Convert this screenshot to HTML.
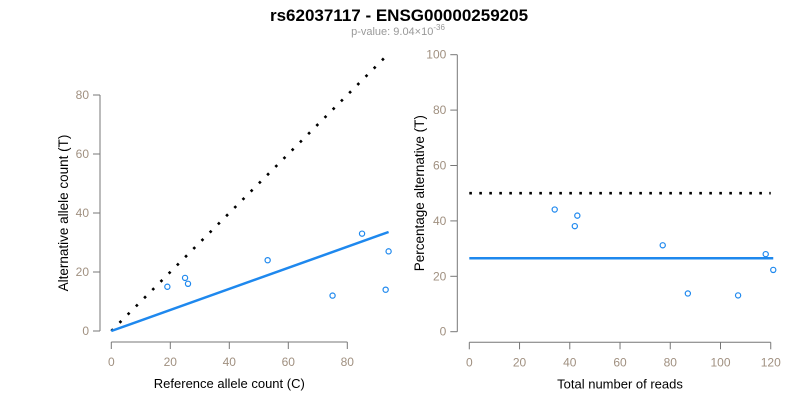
<!DOCTYPE html>
<html><head><meta charset="utf-8"><style>
body{margin:0;background:#fff;width:800px;height:400px;overflow:hidden;font-family:"Liberation Sans",Arial,sans-serif}
svg text{font-family:"Liberation Sans",Arial,sans-serif}
</style></head><body>
<svg id="chart" width="800" height="400" xmlns="http://www.w3.org/2000/svg">
<text x="399" y="21" text-anchor="middle" font-size="17" font-weight="bold" fill="#000">rs62037117 - ENSG00000259205</text>
<text x="398" y="35" text-anchor="middle" font-size="11" fill="#999">p-value: 9.04×10<tspan dy="-5" font-size="8">-36</tspan></text>
<g id="left"></g>
<g id="right"></g>
</svg>
<script>
const refCounts=[19,25,26,53,75,85,93,94];
const altCounts=[15,18,16,24,12,33,14,27];
const leftXTicks=[0,20,40,60,80];
const leftYTicks=[0,20,40,60,80];
const fitSlope=0.357;
const totals=[34,43,42,77,87,118,107,121];
const pctAlt=[44.1,41.9,38.1,31.2,13.8,28.0,13.1,22.3];
const rightXTicks=[0,20,40,60,80,100,120];
const rightYTicks=[0,20,40,60,80,100];
const meanPct=26.5;
const NS="http://www.w3.org/2000/svg";
function mk(p,tag,a){const e=document.createElementNS(NS,tag);for(const k in a)e.setAttribute(k,a[k]);p.appendChild(e);return e;}
function axes(g,sx,sy,xt,yt,xAxisY,yAxisX,xl,yl,ylx){
  const xa=mk(g,'line',{x1:sx(xt[0]),x2:sx(xt[xt.length-1]),y1:xAxisY,y2:xAxisY,stroke:'#777'});
  
  
  xt.forEach(v=>{
    const t=mk(g,'line',{x1:sx(v),x2:sx(v),y1:xAxisY,y2:xAxisY+7,stroke:'#777'});
    
    
    const l=mk(g,'text',{x:sx(v),y:xAxisY+24,'text-anchor':'middle','font-size':12,fill:'#a09080'});
    l.textContent=v;
    
    
  });
  const ya=mk(g,'line',{x1:yAxisX,x2:yAxisX,y1:sy(yt[0]),y2:sy(yt[yt.length-1]),stroke:'#777'});
  
  
  yt.forEach(v=>{
    const t=mk(g,'line',{x1:yAxisX-7,x2:yAxisX,y1:sy(v),y2:sy(v),stroke:'#777'});
    
    
    const l=mk(g,'text',{x:yAxisX-11,y:sy(v)+4,'text-anchor':'end','font-size':12,fill:'#a09080'});
    l.textContent=v;
    
    
  });
  const xt2=mk(g,'text',{x:(sx(xt[0])+sx(xt[xt.length-1]))/2,y:xAxisY+46,'text-anchor':'middle','font-size':13,fill:'#000'});
  xt2.textContent=xl;
  
  
  const cy=(sy(yt[0])+sy(yt[yt.length-1]))/2;
  const yt2=mk(g,'text',{x:ylx,y:cy,'text-anchor':'middle','font-size':13.5,fill:'#000',transform:`rotate(-90 ${ylx} ${cy})`});
  yt2.textContent=yl;
  
  
}
// left
const L=document.getElementById('left');
const lx=v=>111.3+v*2.95, ly=v=>331-v*2.95;
axes(L,lx,ly,leftXTicks,leftYTicks,342,100,'Reference allele count (C)','Alternative allele count (T)',68);
const maxRef=Math.max(...refCounts);
const d1=mk(L,'line',{x1:lx(0),y1:ly(0),x2:lx(maxRef),y2:ly(maxRef),stroke:'#000','stroke-width':2.6,'stroke-dasharray':'2.6 9'});


const f1=mk(L,'line',{x1:lx(0),y1:ly(0),x2:lx(maxRef),y2:ly(maxRef*fitSlope),stroke:'#1e88ee','stroke-width':2.5});


refCounts.forEach((r,i)=>{
  const c=mk(L,'circle',{cx:lx(r),cy:ly(altCounts[i]),r:2.6,fill:'none',stroke:'#1e88ee','stroke-width':1.2});
  
  
});
// right
const R=document.getElementById('right');
const rx=v=>469.3+v*2.512, ry=v=>331.7-v*2.77;
axes(R,rx,ry,rightXTicks,rightYTicks,342.3,457.3,'Total number of reads','Percentage alternative (T)',424);
const d2=mk(R,'line',{x1:rx(0),y1:ry(50),x2:rx(120),y2:ry(50),stroke:'#000','stroke-width':2.6,'stroke-dasharray':'2.6 7.4'});


const f2=mk(R,'line',{x1:rx(0),y1:ry(meanPct),x2:rx(Math.max(...totals)),y2:ry(meanPct),stroke:'#1e88ee','stroke-width':2.5});


totals.forEach((t,i)=>{
  const c=mk(R,'circle',{cx:rx(t),cy:ry(pctAlt[i]),r:2.6,fill:'none',stroke:'#1e88ee','stroke-width':1.2});
  
  
});
</script>
</body></html>
